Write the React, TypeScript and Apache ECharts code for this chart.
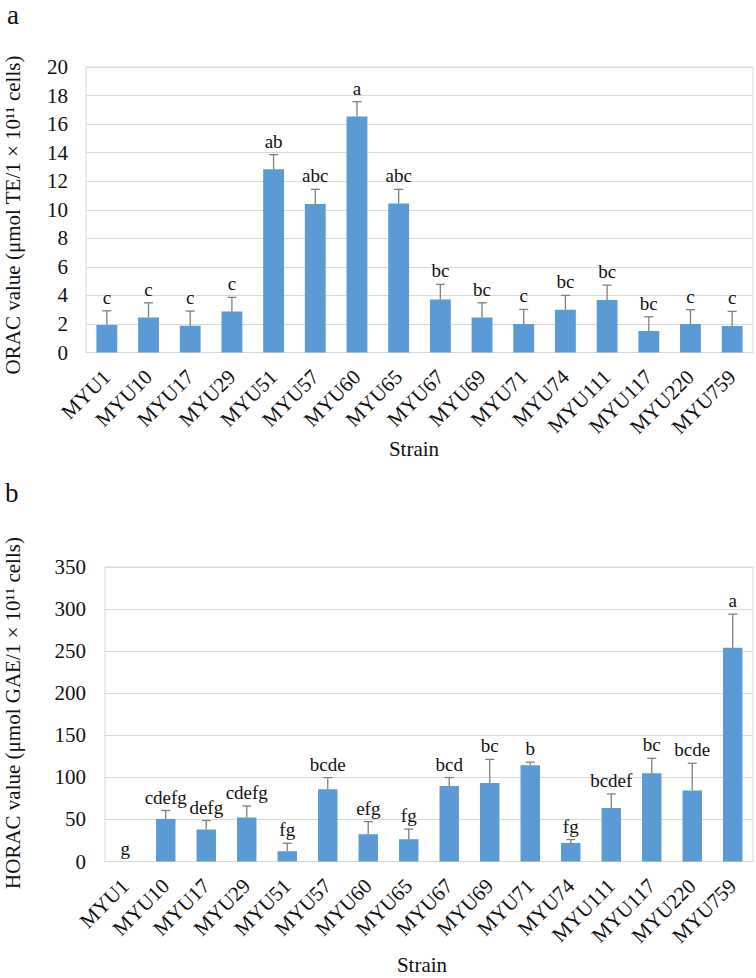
import React, { useEffect, useRef } from 'react';
import * as echarts from 'echarts';

const strains = ['MYU1', 'MYU10', 'MYU17', 'MYU29', 'MYU51', 'MYU57', 'MYU60', 'MYU65', 'MYU67', 'MYU69', 'MYU71', 'MYU74', 'MYU111', 'MYU117', 'MYU220', 'MYU759'];

const oracValues = [1.92, 2.46, 1.87, 2.88, 12.83, 10.4, 16.54, 10.43, 3.72, 2.46, 2.0, 3.0, 3.67, 1.5, 2.0, 1.85];
const oracErrors = [1.0, 1.02, 1.03, 0.98, 1.03, 1.03, 1.03, 1.0, 1.05, 1.02, 1.02, 1.0, 1.05, 1.0, 1.0, 1.03];
const oracLetters = ['c', 'c', 'c', 'c', 'ab', 'abc', 'a', 'abc', 'bc', 'bc', 'c', 'bc', 'bc', 'bc', 'c', 'c'];

const horacValues = [0, 50.6, 38, 52.3, 12.2, 85.9, 32.4, 26.5, 89.8, 93.4, 114.4, 22.1, 63.7, 104.9, 84.3, 254];
const horacErrors = [0, 10, 10.7, 13.7, 9.5, 13.8, 15, 12, 10, 28, 3.6, 4, 16.6, 17.8, 32.4, 40];
const horacLetters = ['g', 'cdefg', 'defg', 'cdefg', 'fg', 'bcde', 'efg', 'fg', 'bcd', 'bc', 'b', 'fg', 'bcdef', 'bc', 'bcde', 'a'];

const oracTicks = { min: 0, max: 20, interval: 2 };
const horacTicks = { min: 0, max: 350, interval: 50 };

const FONT = "'Liberation Serif', 'Times New Roman', serif";
const TEXT = '#111111';
const GRID = '#D9D9D9';
const BAR = '#5B9BD5';
const ERR = '#7F7F7F';

function errorSeries(idx: number, values: number[], errors: number[], letters: string[]) {
  return {
    type: 'custom',
    xAxisIndex: idx,
    yAxisIndex: idx,
    clip: false,
    z: 5,
    data: values.map((v, i) => [i, v, errors[i]]),
    renderItem: (params: any, api: any) => {
      const i = api.value(0);
      const v = api.value(1);
      const e = api.value(2);
      const base = api.coord([i, v]);
      const top = api.coord([i, v + e]);
      const children: any[] = [];
      if (e > 0) {
        children.push({
          type: 'line',
          shape: { x1: base[0], y1: base[1], x2: top[0], y2: top[1] },
          style: { stroke: ERR, lineWidth: 1.3 },
        });
        children.push({
          type: 'line',
          shape: { x1: top[0] - 4.5, y1: top[1], x2: top[0] + 4.5, y2: top[1] },
          style: { stroke: ERR, lineWidth: 1.3 },
        });
      }
      children.push({
        type: 'text',
        x: top[0],
        y: top[1] - 4,
        style: {
          text: letters[params.dataIndex],
          fontFamily: FONT,
          fontSize: 19,
          fill: TEXT,
          align: 'center',
          verticalAlign: 'bottom',
        },
      });
      return { type: 'group', children };
    },
  };
}

function xAxisCfg(gridIndex: number) {
  return {
    type: 'category',
    gridIndex,
    data: strains,
    axisLine: { lineStyle: { color: GRID, width: 1 } },
    axisTick: { show: false },
    axisLabel: { rotate: 45, interval: 0, fontSize: 21, fontFamily: FONT, color: TEXT, margin: 21 },
  };
}

function yAxisCfg(gridIndex: number, t: { min: number; max: number; interval: number }, margin: number) {
  return {
    type: 'value',
    gridIndex,
    min: t.min,
    max: t.max,
    interval: t.interval,
    axisLine: { show: false },
    axisTick: { show: false },
    splitLine: { lineStyle: { color: GRID, width: 1 } },
    axisLabel: { fontSize: 21, fontFamily: FONT, color: TEXT, margin },
  };
}

function txt(text: string, x: number, y: number, size: number, rotation = 0, align = 'center') {
  return {
    type: 'text',
    x,
    y,
    rotation,
    style: { text, fontFamily: FONT, fontSize: size, fill: TEXT, align, verticalAlign: 'middle' },
  };
}

export default function App() {
  const ref = useRef<HTMLDivElement>(null);
  useEffect(() => {
    if (!ref.current) return;
    const chart = echarts.init(ref.current, undefined, { renderer: 'svg' });
    chart.setOption({
      animation: false,
      backgroundColor: '#ffffff',
      grid: [
        { left: 86, right: 3, top: 67, height: 285.5, show: true, borderColor: GRID, borderWidth: 1, containLabel: false },
        { left: 105, right: 3, top: 567, height: 294.5, show: true, borderColor: GRID, borderWidth: 1, containLabel: false },
      ],
      xAxis: [xAxisCfg(0), xAxisCfg(1)],
      yAxis: [yAxisCfg(0, oracTicks, 18), yAxisCfg(1, horacTicks, 19)],
      series: [
        { type: 'bar', xAxisIndex: 0, yAxisIndex: 0, data: oracValues, barWidth: '50%', itemStyle: { color: BAR } },
        errorSeries(0, oracValues, oracErrors, oracLetters),
        { type: 'bar', xAxisIndex: 1, yAxisIndex: 1, data: horacValues, barWidth: '48%', itemStyle: { color: BAR } },
        errorSeries(1, horacValues, horacErrors, horacLetters),
      ],
      graphic: [
        txt('a', 7, 15, 27, 0, 'left'),
        txt('b', 5, 493, 27, 0, 'left'),
        txt('ORAC value (μmol TE/1 × 10¹¹ cells)', 13, 215, 21, Math.PI / 2),
        txt('HORAC value (μmol GAE/1 × 10¹¹ cells)', 13, 713, 21, Math.PI / 2),
        txt('Strain', 414, 449, 21),
        txt('Strain', 422, 965, 21),
      ],
    });
    return () => chart.dispose();
  }, []);
  return <div ref={ref} style={{ position: 'absolute', left: 0, top: 0, width: 756, height: 978 }} />;
}
